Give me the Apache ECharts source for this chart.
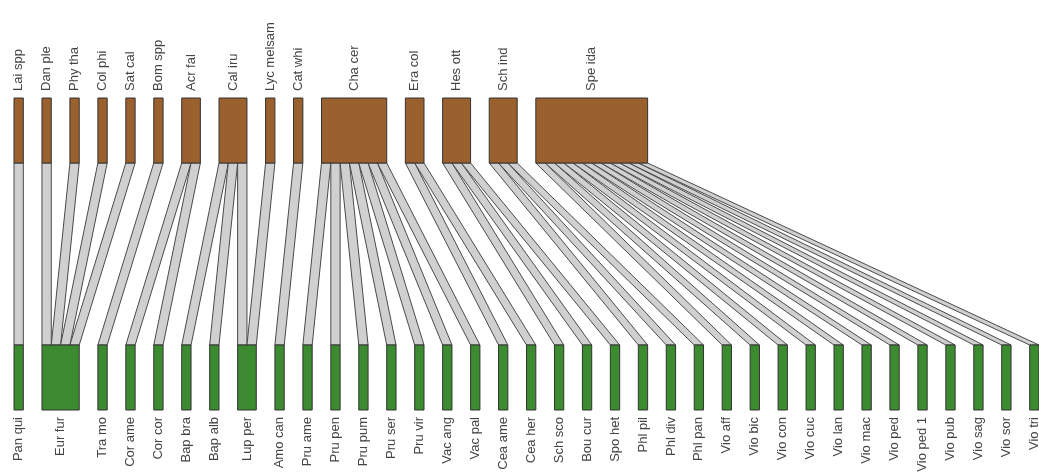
<!DOCTYPE html>
<html>
<head>
<meta charset="utf-8">
<script src="https://cdn.jsdelivr.net/npm/echarts@6/dist/echarts.min.js"></script>
<style>
  html, body { margin: 0; padding: 0; background: #fff; }
  #main { width: 1039px; height: 474px; }
</style>
</head>
<body>
<div id="main"></div>
<script>
// pollinators (top level)
const topNames = ['Lai spp', 'Dan ple', 'Phy tha', 'Col phi', 'Sat cal', 'Bom spp', 'Acr fal', 'Cal iru',
  'Lyc melsam', 'Cat whi', 'Cha cer', 'Era col', 'Hes ott', 'Sch ind', 'Spe ida'];
// plants (bottom level)
const bottomNames = ['Pan qui', 'Eur fur', 'Tra mo', 'Cor ame', 'Cor cor', 'Bap bra', 'Bap alb', 'Lup per',
  'Amo can', 'Pru ame', 'Pru pen', 'Pru pum', 'Pru ser', 'Pru vir', 'Vac ang', 'Vac pal', 'Cea ame',
  'Cea her', 'Sch sco', 'Bou cur', 'Spo het', 'Phl pil', 'Phl div', 'Phl pan', 'Vio aff', 'Vio bic',
  'Vio con', 'Vio cuc', 'Vio lan', 'Vio mac', 'Vio ped', 'Vio ped 1', 'Vio pub', 'Vio sag', 'Vio sor', 'Vio tri'];
// interactions: [top, bottom, weight]
const links = [
  ['Lai spp', 'Pan qui', 1],
  ['Dan ple', 'Eur fur', 1],
  ['Phy tha', 'Eur fur', 1],
  ['Col phi', 'Eur fur', 1],
  ['Sat cal', 'Eur fur', 1],
  ['Bom spp', 'Tra mo', 1],
  ['Acr fal', 'Cor ame', 1],
  ['Acr fal', 'Cor cor', 1],
  ['Cal iru', 'Bap bra', 1],
  ['Cal iru', 'Bap alb', 1],
  ['Cal iru', 'Lup per', 1],
  ['Lyc melsam', 'Lup per', 1],
  ['Cat whi', 'Amo can', 1],
  ['Cha cer', 'Pru ame', 1],
  ['Cha cer', 'Pru pen', 1],
  ['Cha cer', 'Pru pum', 1],
  ['Cha cer', 'Pru ser', 1],
  ['Cha cer', 'Pru vir', 1],
  ['Cha cer', 'Vac ang', 1],
  ['Cha cer', 'Vac pal', 1],
  ['Era col', 'Cea ame', 1],
  ['Era col', 'Cea her', 1],
  ['Hes ott', 'Sch sco', 1],
  ['Hes ott', 'Bou cur', 1],
  ['Hes ott', 'Spo het', 1],
  ['Sch ind', 'Phl pil', 1],
  ['Sch ind', 'Phl div', 1],
  ['Sch ind', 'Phl pan', 1],
  ['Spe ida', 'Vio aff', 1],
  ['Spe ida', 'Vio bic', 1],
  ['Spe ida', 'Vio con', 1],
  ['Spe ida', 'Vio cuc', 1],
  ['Spe ida', 'Vio lan', 1],
  ['Spe ida', 'Vio mac', 1],
  ['Spe ida', 'Vio ped', 1],
  ['Spe ida', 'Vio ped 1', 1],
  ['Spe ida', 'Vio pub', 1],
  ['Spe ida', 'Vio sag', 1],
  ['Spe ida', 'Vio sor', 1],
  ['Spe ida', 'Vio tri', 1]
];

const gap = 2;          // space between boxes, in link units
const lowY = [0, 1];    // bottom boxes
const highY = [3.8, 4.8]; // top boxes

// box sizes = sum of interactions
function layout(names, key) {
  let x = 0;
  const pos = {};
  names.forEach(function (n) {
    let w = 0;
    links.forEach(function (l) { if (l[key] === n) w += l[2]; });
    pos[n] = { x: x, w: w, used: 0 };
    x += w + gap;
  });
  return pos;
}
const topPos = layout(topNames, 0);
const botPos = layout(bottomNames, 1);

const linkData = links.map(function (l) {
  const t = topPos[l[0]], b = botPos[l[1]];
  const tx = t.x + t.used, bx = b.x + b.used;
  t.used += l[2]; b.used += l[2];
  return [tx, bx, l[2]];
});
const topData = topNames.map(function (n) { return [topPos[n].x, topPos[n].w, 1, n]; });
const botData = bottomNames.map(function (n) { return [botPos[n].x, botPos[n].w, 0, n]; });

const font = '13px "Liberation Sans", Arial, sans-serif';

function boxItem(params, api) {
  const x = api.value(0), w = api.value(1), hi = api.value(2) === 1;
  const yr = hi ? highY : lowY;
  const p0 = api.coord([x, yr[1]]);
  const p1 = api.coord([x + w, yr[0]]);
  const name = hi ? topData[params.dataIndex][3] : botData[params.dataIndex][3];
  const cx = (p0[0] + p1[0]) / 2;
  return {
    type: 'group',
    children: [
      {
        type: 'rect',
        shape: { x: p0[0], y: p0[1], width: p1[0] - p0[0], height: p1[1] - p0[1] },
        style: { fill: hi ? '#9a602d' : '#3d8b30', stroke: '#333', lineWidth: 1 }
      },
      {
        type: 'text',
        x: cx,
        y: hi ? p0[1] - 7 : p1[1] + 7,
        rotation: Math.PI / 2,
        style: {
          text: name,
          font: font,
          fill: '#444',
          align: hi ? 'left' : 'right',
          verticalAlign: 'middle'
        }
      }
    ]
  };
}

function linkItem(params, api) {
  const tx = api.value(0), bx = api.value(1), w = api.value(2);
  const a = api.coord([tx, highY[0]]);
  const b = api.coord([tx + w, highY[0]]);
  const c = api.coord([bx + w, lowY[1]]);
  const d = api.coord([bx, lowY[1]]);
  return {
    type: 'polygon',
    shape: { points: [a, b, c, d] },
    style: { fill: '#d0d0d0', stroke: '#4a4a4a', lineWidth: 1 }
  };
}

let myChart = echarts.init(document.getElementById('main'));
myChart.setOption({
  animation: false,
  grid: { left: 14, top: 98, width: 1031, height: 312 },
  xAxis: { type: 'value', min: 0, max: 110, show: false },
  yAxis: { type: 'value', min: 0, max: 4.8, show: false },
  series: [
    { type: 'custom', renderItem: linkItem, data: linkData, clip: false, silent: true },
    { type: 'custom', renderItem: boxItem, data: topData, clip: false, silent: true },
    { type: 'custom', renderItem: boxItem, data: botData, clip: false, silent: true }
  ]
});
</script>
</body>
</html>
